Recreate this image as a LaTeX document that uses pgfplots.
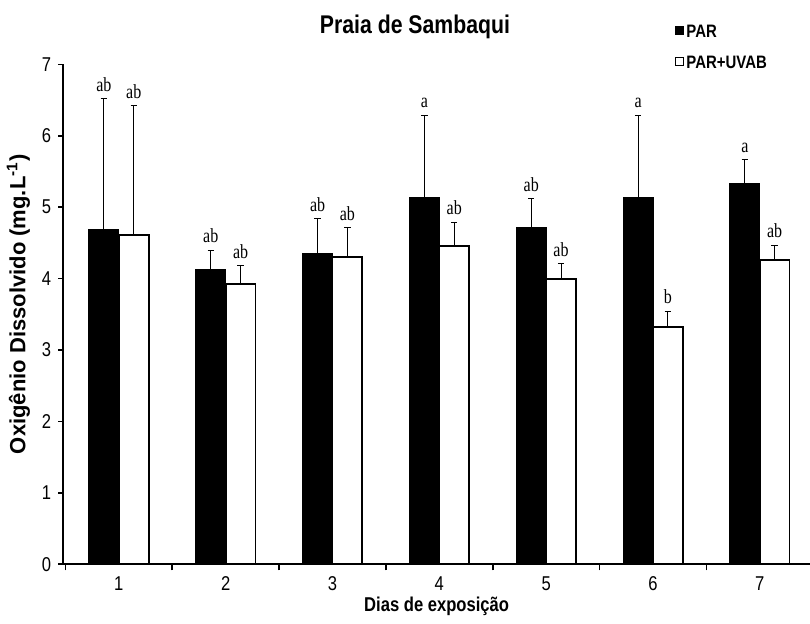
\documentclass[border=0pt]{standalone}
\usepackage{fontspec}
\setmainfont{Liberation Sans}
\newfontfamily\narrow[FakeStretch=0.83]{Liberation Sans}
\newfontfamily\narrowserif[FakeStretch=0.8]{Liberation Serif}
\usepackage{pgfplots}
\usepackage{pgfplotstable}
\pgfplotsset{compat=1.18}

\pgfplotstableread{
x y err lab
1 4.68 1.84 ab
2 4.12 0.28 ab
3 4.35 0.49 ab
4 5.14 1.15 a
5 4.71 0.41 ab
6 5.14 1.15 a
7 5.33 0.34 a
}\tabPAR

\pgfplotstableread{
x y err lab
1 4.61 1.81 ab
2 3.92 0.26 ab
3 4.30 0.41 ab
4 4.46 0.33 ab
5 3.99 0.22 ab
6 3.32 0.22 b
7 4.26 0.21 ab
}\tabUV

\begin{document}
\begin{tikzpicture}
\begin{axis}[
  scale only axis, width=373.35pt, height=250pt,
  xmin=0.48, xmax=7.47, ymin=0, ymax=7,
  clip=false,
  axis lines*=left,
  axis line style={line width=1pt},
  ybar=0pt, bar width=14.9pt,
  xtick={1,...,7},
  xticklabels={1,2,3,4,5,6,7},
  major x tick style={draw=none},
  minor xtick={0.5,1.5,...,6.5},
  minor tick length=3pt,
  ytick={0,...,7},
  yticklabel={\narrow\fontsize{10}{12}\selectfont\pgfmathprintnumber[assume math mode=true]{\tick}},
  tick align=outside, major tick length=2.5pt,
  tick style={line width=0.8pt, black},
  /pgf/number format/assume math mode=true,
  xticklabel style={font=\narrow\fontsize{10}{12}\selectfont},
  yticklabel style={font=\narrow\fontsize{10}{12}\selectfont},
  title={Praia de Sambaqui},
  title style={font=\narrow\bfseries\fontsize{12.8}{14}\selectfont, at={(0.471,1)}, anchor=base, yshift=9.6pt},
  xlabel={Dias de exposição},
  xlabel style={font=\narrow\bfseries\fontsize{10}{12}\selectfont, at={(axis description cs:0.5,-0.095)}, anchor=base},
  ylabel={Oxigênio Dissolvido (mg.L\textsuperscript{-1})},
  ylabel style={font=\bfseries\fontsize{11}{13}\selectfont, at={(axis description cs:-0.06,0.52)}, anchor=center},
  legend style={draw=none, fill=none, at={(0.819,1)}, anchor=north west, yshift=20.9pt,
    inner sep=0pt, row sep=7pt, font=\narrow\bfseries\fontsize{9}{10}\selectfont,
    nodes={inner sep=1pt, text height=6.5pt, text depth=0pt}},
  legend cell align=left,
  legend image code/.code={\draw[#1, line width=0.6pt] (0pt,-1.5pt) rectangle (4pt,2.5pt);},
  nodes near coords,
  point meta=explicit symbolic,
  visualization depends on={\thisrow{err}\as\myerr},
  every node near coord/.append style={anchor=south, text=black,
    font=\narrowserif\fontsize{10}{11}\selectfont,
    shift={(axis direction cs:0,\myerr)}, yshift=1.2pt, inner sep=2pt},
]
\addplot[fill=black, draw=black, line width=0.6pt,
  error bars/.cd, y dir=plus, y explicit,
  error bar style={line width=0.5pt, black},
  error mark options={rotate=90, mark size=1.6pt, line width=0.5pt, black}]
  table[x=x, y=y, y error=err, meta=lab] {\tabPAR};
\addplot[fill=white, draw=black, line width=0.9pt,
  error bars/.cd, y dir=plus, y explicit,
  error bar style={line width=0.5pt, black},
  error mark options={rotate=90, mark size=1.6pt, line width=0.5pt, black}]
  table[x=x, y=y, y error=err, meta=lab] {\tabUV};
\legend{PAR, PAR+UVAB}
\coordinate (o) at (rel axis cs:0,0);
\end{axis}
\pgfresetboundingbox
\path[use as bounding box] (o) ++(-31.65pt,-29.85pt) rectangle ++(405pt,312pt);
\end{tikzpicture}
\end{document}
